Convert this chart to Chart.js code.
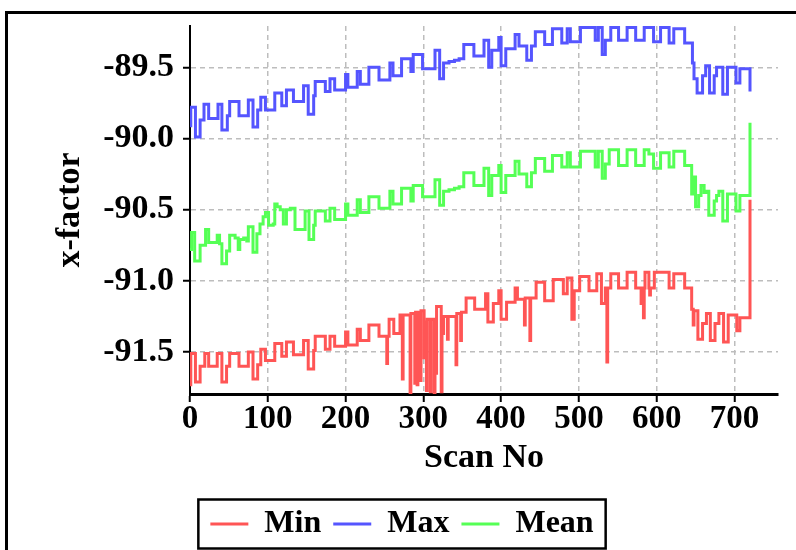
<!DOCTYPE html>
<html>
<head>
<meta charset="utf-8">
<script src="https://cdn.jsdelivr.net/npm/chart.js@4.4.1/dist/chart.umd.min.js"></script>
<style>
	body { margin: 0; background: #fff; overflow: hidden; }
	#frame { position: absolute; left: 5px; top: 11px; width: 1000px; height: 1000px; border: 3px solid #000; }
	#myChart { position: absolute; left: 0; top: 0; z-index: 1; }
</style>
</head>
<body>
<div id="frame"></div>
<canvas id="myChart" width="796" height="550"></canvas>

<script>
// series are stored as step levels: value holds from scan[i] until scan[i+1]
const minScan = [0, 1, 7, 13, 19, 24, 35, 41, 47, 51, 63, 75, 81, 87, 91, 97, 109, 118, 124, 133, 146, 152, 159, 161, 174,
	180, 186, 200, 203, 215, 219, 230, 243, 253, 254, 256, 262, 270, 273, 274, 283, 284, 289, 290, 292, 293, 296, 297,
	301, 302, 304, 305, 309, 310, 314, 315, 316, 317, 323, 324, 326, 331, 332, 342, 343, 348, 349, 355, 366, 380, 383,
	390, 397, 400, 407, 418, 421, 430, 431, 437, 438, 445, 456, 467, 480, 485, 491, 492, 493, 494, 501, 513, 523, 529,
	534, 536, 537, 541, 551, 562, 573, 580, 581, 583, 584, 585, 590, 591, 592, 597, 616, 622, 636, 645, 647, 648, 653,
	659, 664, 669, 675, 680, 686, 692, 703, 707, 720];
const minValue = [-91.73, -91.51, -91.71, -91.60, -91.51, -91.60, -91.51, -91.71, -91.60, -91.51, -91.60, -91.50, -91.69,
	-91.59, -91.48, -91.56, -91.44, -91.53, -91.43, -91.52, -91.42, -91.62, -91.49, -91.39, -91.48,
	-91.39, -91.46, -91.36, -91.45, -91.34, -91.42, -91.31, -91.39, -91.58, -91.39, -91.27, -91.37, -91.24, -91.69, -91.24,
	-91.80, -91.23, -91.72, -91.22, -91.73, -91.22, -91.70, -91.21,
	-91.54, -91.29, -91.77, -91.27, -91.78, -91.27, -91.80, -91.27, -91.65, -91.18, -91.78, -91.37, -91.25, -91.41, -91.25,
	-91.59, -91.23, -91.42, -91.22, -91.12, -91.20, -91.09, -91.29,
	-91.16, -91.07, -91.27, -91.15, -91.05, -91.13, -91.31, -91.12, -91.42, -91.12, -91.01, -91.14, -90.99, -91.09, -90.98,
	-91.27, -91.07, -91.27, -91.07, -90.97, -91.07, -90.95, -91.16,
	-91.05, -91.57, -91.05, -90.95, -91.05, -90.94, -91.05, -91.16, -91.05, -91.26, -91.05, -90.94, -91.05, -91.10, -91.05,
	-90.94, -91.05, -90.95, -91.05, -91.20, -91.31, -91.21, -91.41,
	-91.30, -91.23, -91.42, -91.30, -91.23, -91.43, -91.24, -91.35, -91.26, -90.43];

const maxScan = [0, 1, 7, 13, 18, 24, 36, 41, 48, 51, 63, 75, 81, 87, 91, 97, 109, 118, 124, 133, 146, 152, 159, 161, 174,
	180, 186, 200, 203, 215, 219, 230, 243, 257, 261, 272, 284, 287, 299, 315, 321, 326, 333, 340, 346, 352, 365, 378,
	384, 388, 397, 400, 406, 418, 423, 433, 439, 444, 456, 466, 478, 485, 489, 502, 521, 525, 530, 534, 541, 551, 562,
	573, 584, 596, 605, 616, 622, 636, 646, 648, 652, 659, 663, 668, 674, 677, 685, 691, 702, 707, 720];
const maxValue = [-89.91, -89.78, -89.99, -89.87, -89.76, -89.86, -89.76, -89.94, -89.84, -89.74, -89.84, -89.73, -89.92,
	-89.80, -89.71, -89.80, -89.68, -89.77, -89.66, -89.74, -89.63, -89.83, -89.70, -89.60, -89.67,
	-89.58, -89.66, -89.55, -89.64, -89.53, -89.62, -89.50, -89.59, -89.47, -89.56, -89.44, -89.53, -89.41, -89.51, -89.38,
	-89.58, -89.47, -89.46, -89.45, -89.44, -89.34, -89.42, -89.31,
	-89.50, -89.38, -89.29, -89.49, -89.37, -89.27, -89.35, -89.45, -89.35, -89.25, -89.34, -89.23, -89.33, -89.23, -89.32,
	-89.22, -89.31, -89.22, -89.41, -89.31, -89.22, -89.31, -89.22,
	-89.31, -89.22, -89.32, -89.22, -89.33, -89.23, -89.33, -89.47, -89.58, -89.68, -89.56, -89.49, -89.68, -89.56, -89.50,
	-89.69, -89.50, -89.61, -89.51, -89.67];

const meanScan = [0, 2, 6, 13, 20, 24, 35, 38, 41, 47, 51, 58, 62, 64, 69, 73, 75, 81, 86, 90, 94, 97, 101, 107, 109, 112,
	116, 120, 124, 129, 135, 148, 153, 159, 161, 174,
	180, 186, 200, 203, 215, 219, 230, 243, 257, 261, 272, 284, 287, 299, 315, 321, 326, 333, 340, 346, 352, 365, 378,
	384, 388, 397, 400, 406, 418, 423, 433, 439, 444, 456, 466, 478, 485, 489, 502, 521, 525, 530, 534, 539, 551, 562,
	573, 584, 590, 596, 605, 616, 622, 636, 645, 647, 650, 654, 657, 661, 664, 667, 674, 677, 680, 685, 691, 702, 707, 720];
const meanValue = [-90.78, -90.66, -90.86, -90.75, -90.64, -90.73, -90.68, -90.74, -90.88, -90.79, -90.68, -90.70, -90.78,
	-90.71, -90.70, -90.72, -90.62, -90.80, -90.67, -90.60, -90.55, -90.52, -90.61, -90.60, -90.46, -90.48,
	-90.50, -90.60, -90.50, -90.49, -90.64, -90.51, -90.71, -90.61, -90.51, -90.58,
	-90.49, -90.57, -90.46, -90.54, -90.43, -90.52, -90.41, -90.49, -90.37, -90.46, -90.35, -90.44, -90.33, -90.41, -90.29,
	-90.47, -90.37, -90.36, -90.35, -90.34, -90.24, -90.33, -90.21,
	-90.40, -90.26, -90.19, -90.38, -90.26, -90.16, -90.25, -90.34, -90.24, -90.14, -90.23, -90.12, -90.20, -90.10, -90.20,
	-90.09, -90.20, -90.09, -90.28, -90.18, -90.08, -90.19, -90.08,
	-90.19, -90.08, -90.11, -90.21, -90.10, -90.20, -90.09, -90.19, -90.39, -90.27, -90.48, -90.40, -90.33, -90.38, -90.37,
	-90.54, -90.44, -90.40, -90.37, -90.58, -90.39, -90.51, -90.40, -89.89];

const xTicks = [0, 100, 200, 300, 400, 500, 600, 700];
const yTicks = [-91.5, -91.0, -90.5, -90.0, -89.5];

function pontos(scan, value) {
	return scan.map((s, i) => ({ x: s, y: value[i] }));
}

function serie(label, scan, value, cor) {
	return {
		label: label,
		data: pontos(scan, value),
		borderColor: cor,
		backgroundColor: cor,
		borderWidth: 3,
		stepped: true,
		pointRadius: 0,
		pointHoverRadius: 0
	};
}

// black frame round the legend
const legendBox = {
	id: 'legendBox',
	afterDraw(chart) {
		const boxes = chart.legend && chart.legend.legendHitBoxes;
		if (!boxes || !boxes.length) return;
		const first = boxes[0];
		const last = boxes[boxes.length - 1];
		const cy = first.top + first.height / 2;
		const ctx = chart.ctx;
		ctx.save();
		ctx.strokeStyle = '#000';
		ctx.lineWidth = 2.5;
		ctx.strokeRect(first.left - 12, cy - 24.5, last.left + last.width - first.left + 24, 49);
		ctx.restore();
	}
};

Chart.defaults.font.family = '"Liberation Serif", serif';
Chart.defaults.font.weight = 'bold';
Chart.defaults.color = '#000';

const ctx = document.getElementById('myChart').getContext('2d');

new Chart(ctx, {
	type: 'line',
	data: {
		datasets: [
			serie('Min', minScan, minValue, '#ff5555'),
			serie('Max', maxScan, maxValue, '#5555ff'),
			serie('Mean', meanScan, meanValue, '#55ff55')
		]
	},
	options: {
		responsive: false,
		animation: false,
		devicePixelRatio: 1,
		layout: { autoPadding: false, padding: { left: 26, top: 22, right: 18, bottom: 0 } },
		plugins: {
			tooltip: { enabled: false },
			legend: {
				position: 'bottom',
				labels: {
					usePointStyle: true,
					pointStyle: 'line',
					pointStyleWidth: 38,
					padding: 12,
					color: '#000',
					font: { size: 32, weight: 'bold' }
				}
			}
		},
		scales: {
			x: {
				type: 'linear',
				min: 0,
				max: 756,
				afterFit: s => { s.height = 102; },
				afterBuildTicks: s => { s.ticks = xTicks.map(v => ({ value: v })); },
				ticks: { padding: 1, font: { size: 33, lineHeight: 1 } },
				grid: { color: '#bdbdbd', lineWidth: 1.5, tickColor: '#000', tickLength: 8, tickWidth: 2 },
				border: { color: '#000', width: 3, dash: [5, 4] },
				title: { display: true, text: 'Scan No', font: { size: 34, lineHeight: 1.2 }, padding: { top: 0, bottom: 17 } }
			},
			y: {
				min: -91.795,
				max: -89.21,
				afterFit: s => { s.width = 164; },
				afterBuildTicks: s => { s.ticks = yTicks.map(v => ({ value: v })); },
				ticks: { padding: 9, font: { size: 34, lineHeight: 1 }, callback: v => v.toFixed(1) },
				grid: { color: '#bdbdbd', lineWidth: 1.5, tickColor: '#000', tickLength: 7, tickWidth: 2 },
				border: { color: '#000', width: 2, dash: [5, 4] },
				title: { display: true, text: 'x-factor', font: { size: 34, lineHeight: 1.2 }, padding: { top: 24, bottom: 0 } }
			}
		}
	},
	plugins: [legendBox]
});
</script>
</body>
</html>
